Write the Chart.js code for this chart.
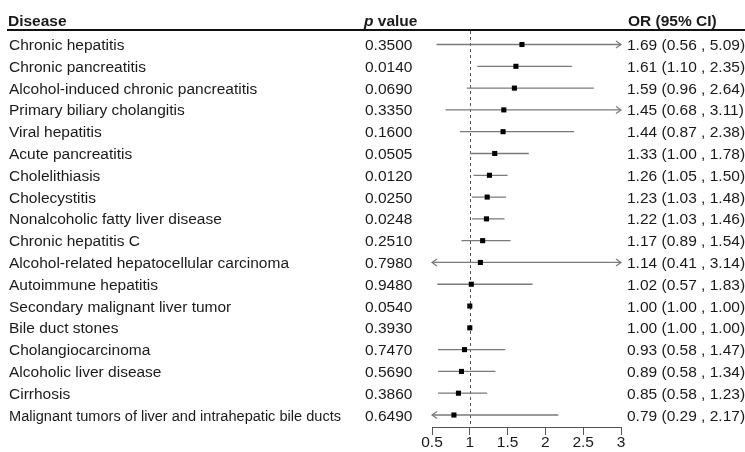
<!DOCTYPE html>
<html>
<head>
<meta charset="utf-8">
<script src="https://cdn.jsdelivr.net/npm/chart.js@4.4.1/dist/chart.umd.min.js"></script>
<style>
  html, body { margin: 0; padding: 0; background: #fff; }
</style>
</head>
<body>
<canvas id="forest" width="745" height="452"></canvas>
<script>
const diseases = [
  'Chronic hepatitis', 'Chronic pancreatitis', 'Alcohol-induced chronic pancreatitis',
  'Primary biliary cholangitis', 'Viral hepatitis', 'Acute pancreatitis', 'Cholelithiasis',
  'Cholecystitis', 'Nonalcoholic fatty liver disease', 'Chronic hepatitis C',
  'Alcohol-related hepatocellular carcinoma', 'Autoimmune hepatitis',
  'Secondary malignant liver tumor', 'Bile duct stones', 'Cholangiocarcinoma',
  'Alcoholic liver disease', 'Cirrhosis', 'Malignant tumors of liver and intrahepatic bile ducts'
];
const pValues = ['0.3500','0.0140','0.0690','0.3350','0.1600','0.0505','0.0120','0.0250','0.0248',
                 '0.2510','0.7980','0.9480','0.0540','0.3930','0.7470','0.5690','0.3860','0.6490'];
const oddsRatio = [1.69,1.61,1.59,1.45,1.44,1.33,1.26,1.23,1.22,1.17,1.14,1.02,1.00,1.00,0.93,0.89,0.85,0.79];
const ciLow  = [0.56,1.10,0.96,0.68,0.87,1.00,1.05,1.03,1.03,0.89,0.41,0.57,1.00,1.00,0.58,0.58,0.58,0.29];
const ciHigh = [5.09,2.35,2.64,3.11,2.38,1.78,1.50,1.48,1.46,1.54,3.14,1.83,1.00,1.00,1.47,1.34,1.23,2.17];
const xTicks = [0.5, 1, 1.5, 2, 2.5, 3];

const family = '"Liberation Sans", Arial, sans-serif';
const ink = '#1a1a1a';
const whisker = '#7a7a7a';

const ciSegments = [];
diseases.forEach((d, i) => {
  ciSegments.push({ x: ciLow[i], y: i }, { x: ciHigh[i], y: i }, { x: null, y: null });
});
const estimates = oddsRatio.map((v, i) => ({ x: v, y: i }));

const fmt = v => v.toFixed(2);

const tablePlugin = {
  id: 'table',
  beforeDatasetsDraw(chart) {
    const { ctx, chartArea: a, scales: { x } } = chart;
    const px = Math.round(x.getPixelForValue(1)) + 0.5;
    ctx.save();
    ctx.strokeStyle = '#555';
    ctx.lineWidth = 1;
    ctx.setLineDash([3, 3]);
    ctx.beginPath();
    ctx.moveTo(px, a.top);
    ctx.lineTo(px, a.bottom);
    ctx.stroke();
    ctx.restore();
  },
  afterDatasetsDraw(chart) {
    // arrow heads where the CI runs past the axis
    const { ctx, scales: { x, y } } = chart;
    const lo = x.getPixelForValue(x.min), hi = x.getPixelForValue(x.max);
    ctx.save();
    ctx.strokeStyle = whisker;
    ctx.lineWidth = 1.2;
    diseases.forEach((d, i) => {
      const py = y.getPixelForValue(i);
      if (ciHigh[i] > x.max) {
        ctx.beginPath();
        ctx.moveTo(hi - 5, py - 3.5); ctx.lineTo(hi, py); ctx.lineTo(hi - 5, py + 3.5);
        ctx.stroke();
      }
      if (ciLow[i] < x.min) {
        ctx.beginPath();
        ctx.moveTo(lo + 5, py - 3.5); ctx.lineTo(lo, py); ctx.lineTo(lo + 5, py + 3.5);
        ctx.stroke();
      }
    });
    ctx.restore();
  },
  afterDraw(chart) {
    const { ctx, chartArea: a, scales: { y } } = chart;
    ctx.save();
    ctx.fillStyle = ink;
    ctx.textBaseline = 'alphabetic';

    // header
    ctx.font = 'bold 15.5px ' + family;
    ctx.fillText('Disease', 8, 25.5);
    ctx.fillText('OR (95% CI)', 628, 25.5);
    ctx.font = 'italic bold 15.5px ' + family;
    ctx.fillText('p', 364, 25.5);
    const pw = ctx.measureText('p ').width;
    ctx.font = 'bold 15.5px ' + family;
    ctx.fillText('value', 364 + pw, 25.5);

    ctx.fillStyle = '#111';
    ctx.fillRect(7, a.top - 2, 745 - 7, 2);

    // rows
    ctx.fillStyle = ink;
    ctx.font = '15.5px ' + family;
    diseases.forEach((d, i) => {
      const py = y.getPixelForValue(i) + 5.5;
      ctx.fillText(d, 9, py, 332);
      ctx.fillText(pValues[i], 365, py);
      ctx.fillText(`${fmt(oddsRatio[i])} (${fmt(ciLow[i])} , ${fmt(ciHigh[i])})`, 627, py);
    });
    ctx.restore();
  }
};

new Chart(document.getElementById('forest'), {
  type: 'scatter',
  data: {
    datasets: [
      {
        label: 'OR',
        data: estimates,
        order: 0,
        pointStyle: 'rect',
        pointRadius: 3.6,
        borderWidth: 0,
        backgroundColor: '#000'
      },
      {
        label: '95% CI',
        data: ciSegments,
        order: 1,
        showLine: true,
        spanGaps: false,
        pointRadius: 0,
        borderColor: whisker,
        borderWidth: 1.3,
        clip: 0
      }
    ]
  },
  options: {
    responsive: false,
    animation: false,
    devicePixelRatio: 1,
    layout: { padding: { left: 432, right: 124, top: 31, bottom: 0 } },
    plugins: { legend: { display: false }, tooltip: { enabled: false } },
    scales: {
      x: {
        type: 'linear',
        min: xTicks[0],
        max: xTicks[xTicks.length - 1],
        afterBuildTicks: s => { s.ticks = xTicks.map(v => ({ value: v })); },
        afterFit: s => { s.height = 25; },
        grid: { drawOnChartArea: false, drawTicks: true, tickLength: 8, color: '#555' },
        border: { color: '#555', width: 1 },
        ticks: {
          color: ink,
          font: { family, size: 15.5, lineHeight: 1 },
          padding: 0,
          maxRotation: 0,
          callback: v => String(v)
        }
      },
      y: {
        type: 'linear',
        reverse: true,
        min: -0.62,
        max: 17.55,
        display: false
      }
    }
  },
  plugins: [tablePlugin]
});
</script>
</body>
</html>
